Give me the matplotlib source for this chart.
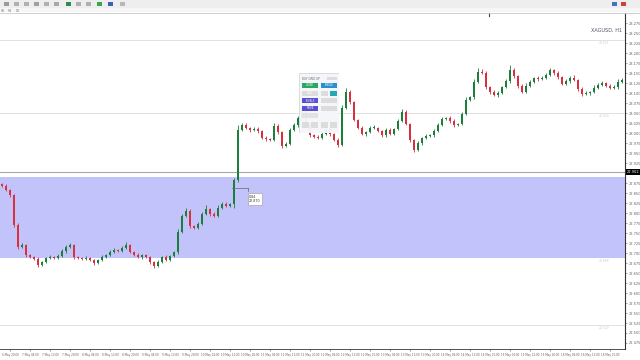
import numpy as np
import matplotlib.pyplot as plt
import matplotlib.transforms as mtransforms
from matplotlib.patches import Rectangle

# XAGUSD H1 closes (first open separately)
first_open = 22.873
closes = [
    22.868, 22.858, 22.845, 22.770, 22.715, 22.720, 22.695, 22.690, 22.685, 22.670,
    22.678, 22.688, 22.690, 22.688, 22.693, 22.705, 22.715, 22.720, 22.690, 22.688,
    22.685, 22.688, 22.683, 22.675, 22.683, 22.690, 22.695, 22.703, 22.708, 22.705,
    22.713, 22.720, 22.703, 22.695, 22.690, 22.695, 22.690, 22.678, 22.668, 22.678,
    22.690, 22.683, 22.693, 22.703, 22.753, 22.793, 22.805, 22.768, 22.763, 22.773,
    22.798, 22.810, 22.798, 22.793, 22.813, 22.823, 22.818, 22.823, 22.883, 23.008,
    23.020, 23.013, 23.008, 23.010, 23.005, 22.988, 22.985, 22.983, 23.018, 23.003,
    22.968, 22.973, 23.008, 23.020, 23.038, 23.063, 23.023, 22.995, 22.990, 22.988,
    22.998, 23.010, 22.998, 22.983, 22.970, 23.063, 23.103, 23.078, 23.033, 23.013,
    22.998, 23.003, 23.013, 23.013, 23.005, 22.995, 23.008, 22.998, 23.010, 23.030,
    23.053, 23.023, 22.983, 22.958, 22.975, 22.988, 22.993, 22.995, 23.005, 23.020,
    23.035, 23.038, 23.030, 23.020, 23.023, 23.048, 23.083, 23.090, 23.128, 23.153,
    23.150, 23.115, 23.103, 23.095, 23.100, 23.115, 23.130, 23.158, 23.143, 23.118,
    23.103, 23.118, 23.128, 23.138, 23.135, 23.138, 23.145, 23.158, 23.150, 23.140,
    23.123, 23.130, 23.138, 23.133, 23.110, 23.098, 23.100, 23.103, 23.113, 23.120,
    23.125, 23.118, 23.113, 23.115, 23.128, 23.133,
]
# wick lengths above / below body, in thousandths
wick_up = [
    3, 4, 2, 3, 5, 4, 2, 3, 2, 4,
    3, 2, 4, 3, 5, 4, 6, 5, 2, 3,
    2, 4, 3, 2, 3, 4, 3, 5, 4, 3,
    5, 7, 3, 2, 4, 3, 2, 3, 2, 4,
    3, 4, 2, 3, 6, 5, 8, 4, 3, 5,
    4, 9, 3, 4, 6, 5, 4, 3, 5, 12,
    6, 4, 3, 5, 4, 3, 4, 2, 6, 4,
    3, 5, 4, 6, 5, 8, 4, 3, 2, 5,
    4, 6, 3, 2, 4, 6, 10, 4, 3, 2,
    5, 3, 4, 6, 3, 2, 5, 4, 3, 5,
    6, 4, 3, 2, 5, 3, 4, 3, 5, 4,
    6, 3, 4, 5, 3, 4, 6, 3, 7, 9,
    6, 4, 3, 5, 4, 3, 5, 12, 4, 3,
    5, 6, 4, 3, 5, 4, 6, 5, 3, 4,
    3, 5, 4, 6, 3, 5, 4, 3, 6, 4,
    5, 3, 4, 6, 8, 4,
]
wick_dn = [
    3, 2, 4, 5, 6, 3, 4, 2, 3, 5,
    3, 4, 2, 3, 2, 3, 4, 3, 5, 2,
    3, 2, 4, 5, 3, 2, 3, 2, 4, 3,
    2, 3, 4, 3, 2, 4, 3, 5, 6, 3,
    2, 4, 3, 2, 5, 4, 3, 5, 4, 3,
    4, 3, 5, 4, 3, 2, 4, 3, 10, 6,
    3, 4, 5, 3, 4, 3, 5, 4, 3, 6,
    5, 4, 3, 2, 4, 3, 5, 4, 3, 2,
    4, 3, 5, 4, 6, 3, 4, 5, 3, 4,
    3, 5, 4, 3, 2, 4, 5, 3, 4, 3,
    2, 4, 6, 5, 3, 4, 3, 2, 4, 3,
    2, 3, 4, 5, 3, 2, 4, 3, 4, 2,
    3, 4, 5, 3, 4, 2, 3, 4, 5, 6,
    4, 3, 2, 3, 4, 2, 3, 2, 4, 5,
    3, 2, 4, 3, 5, 6, 3, 4, 2, 3,
    3, 4, 2, 3, 4, 3,
]
time_labels = [
    '6 May 20:00', '7 May 04:00', '7 May 12:00', '7 May 20:00', '8 May 04:00',
    '8 May 12:00', '8 May 20:00', '9 May 04:00', '9 May 12:00', '9 May 20:00',
    '10 May 04:00', '10 May 12:00', '10 May 20:00', '11 May 04:00', '11 May 12:00',
    '11 May 20:00', '12 May 04:00', '12 May 12:00', '12 May 20:00', '13 May 04:00',
    '13 May 12:00', '13 May 20:00', '14 May 04:00', '14 May 12:00', '14 May 20:00',
    '15 May 04:00', '15 May 12:00', '15 May 20:00', '16 May 04:00', '16 May 12:00',
    '16 May 20:00',
]
zone = (22.6875, 22.890)          # blue box
hlines_light = [23.2325, 23.050, 22.520]
marked_price = 22.9025

W, H = 640, 360
def fr(x0, y0, x1, y1):
    return [x0 / W, 1 - y1 / H, (x1 - x0) / W, (y1 - y0) / H]

fig = plt.figure(figsize=(6.4, 3.6), dpi=100)
fig.patch.set_facecolor('white')

# toolbar strip
fig.patches.append(Rectangle((0, 1 - 8 / H), 1, 8 / H, transform=fig.transFigure,
                             facecolor='#eeeeee', edgecolor='none'))
fig.patches.append(Rectangle((0, 1 - 12 / H), 1, 4 / H, transform=fig.transFigure,
                             facecolor='#f6f6f6', edgecolor='none'))
for x0, c in [(4, '#9a9a9a'), (14, '#b0b0b0'), (24, '#b0b0b0'), (34, '#a0a0a0'),
              (44, '#b0b0b0'), (54, '#a8a8a8'), (66, '#2e8b57'), (76, '#b0b0b0'),
              (86, '#b0b0b0'), (97, '#3aa64a'), (108, '#4060b0'), (120, '#b8b8b8')]:
    fig.patches.append(Rectangle((x0 / W, 1 - 6 / H), 5 / W, 4 / H, transform=fig.transFigure,
                                 facecolor=c, edgecolor='none'))
for x0, c in [(612, '#4a6fc0'), (621, '#d04040')]:
    fig.patches.append(Rectangle((x0 / W, 1 - 6 / H), 5 / W, 4 / H, transform=fig.transFigure,
                                 facecolor=c, edgecolor='none'))
for x0, t in [(1, 'H1'), (8, 'H4'), (16, 'D1')]:
    fig.text(x0 / W, 1 - 10.5 / H, t, fontsize=2.2, color='#777777', va='center')

ax = fig.add_axes(fr(0, 13, 625, 349))
n = len(closes)
x = np.arange(n)
opens = np.array([first_open] + closes[:-1])
closes_a = np.array(closes)
highs = np.maximum(opens, closes_a) + np.array(wick_up) / 1000
lows = np.minimum(opens, closes_a) - np.array(wick_dn) / 1000
up = closes_a >= opens
colors = np.where(up, '#1b7f3b', '#d9303f')

ax.axhspan(zone[0], zone[1], color='#c3c3fb', zorder=0, lw=0)
for p in hlines_light:
    ax.axhline(p, color='#dddddd', lw=0.6, zorder=1)
ax.axhline(marked_price, color='#a8a8a8', lw=0.8, zorder=1)

ax.vlines(x, lows, highs, colors=colors, lw=0.6, zorder=2)
body = np.maximum(np.abs(closes_a - opens), 0.0015)
ax.bar(x, body, bottom=np.minimum(opens, closes_a), width=0.6, color=colors,
       lw=0, zorder=3)

ax.set_xlim(-0.5, 155.75)
ax.set_ylim(22.46, 23.30)

for s in ['left', 'top']:
    ax.spines[s].set_visible(False)
ax.spines['right'].set_color('#333333')
ax.spines['right'].set_linewidth(0.8)
ax.spines['bottom'].set_color('#333333')
ax.spines['bottom'].set_linewidth(0.6)
fig.add_artist(plt.Line2D([0, 1], [1 - 12.5 / H] * 2, color='#c8c8c8', lw=0.6))

yt = np.arange(22.475, 23.30, 0.025)
yt = yt[np.abs(yt - marked_price) > 0.012]
ax.yaxis.tick_right()
ax.set_yticks(yt)
ax.set_yticklabels(['%.3f' % v for v in yt], fontsize=2.6, color='#666666')
ax.tick_params(axis='y', length=1.5, width=0.4, pad=1, colors='#666666')
xt = np.arange(2, 2 + 5 * len(time_labels), 5)[:len(time_labels)]
ax.set_xticks(xt)
ax.set_xticklabels(time_labels, fontsize=2.0, color='#666666')
ax.tick_params(axis='x', length=1.5, width=0.4, pad=1.5, colors='#666666')

tr = mtransforms.blended_transform_factory(ax.transAxes, ax.transData)
ax.text(1.003, marked_price, '%.3f' % marked_price, transform=tr, fontsize=2.6,
        color='white', va='center', ha='left',
        bbox=dict(boxstyle='square,pad=0.25', facecolor='black', edgecolor='none'))
for p in hlines_light:
    ax.text(0.975, p - 0.008, '%.3f' % p, transform=tr, fontsize=2.2, color='#cccccc',
            ha='right', va='center')
ax.text(0.975, zone[0] - 0.008, '%.3f' % zone[0], transform=tr, fontsize=2.2,
        color='#cccccc', ha='right', va='center')
ax.text(0.995, 0.955, 'XAGUSD, H1', transform=ax.transAxes, fontsize=3.6,
        color='#555566', ha='right', va='top')
ax.plot([121.8, 121.8], [23.30, 23.292], color='#444444', lw=0.8, clip_on=False)

# crosshair measure and tooltip
ax.plot([57.5, 61.5], [22.8625, 22.8625], color='#666666', lw=0.5, zorder=5)
ax.plot([61.5, 61.5], [22.8625, 22.855], color='#666666', lw=0.5, zorder=5)
ax.text(61.8, 22.835, '0.84\n22.870', fontsize=2.3, color='#333333', va='center',
        ha='left', zorder=6, linespacing=1.2,
        bbox=dict(boxstyle='square,pad=0.4', facecolor='white', edgecolor='#999999',
                  lw=0.4))

# trade panel
pa = fig.add_axes(fr(299, 73, 339, 133))
pa.set_xlim(299, 339)
pa.set_ylim(133, 73)
pa.axis('off')
pa.add_patch(Rectangle((299, 73), 40, 60, facecolor='#f4f6fa', edgecolor='#c8ccd4',
                       lw=0.5, alpha=0.95))
pa.text(302, 78.5, 'BUY GRID UP', fontsize=2.0, color='#666666', va='center')
buttons = [
    (327, 76.5, 10, 3.5, '#dcdcdc', ''),
    (302, 83, 16, 5, '#2aa860', 'CLOSE'),
    (321, 83, 16, 5, '#2a8fcf', 'SINGLE'),
    (302, 90.5, 16, 5, '#dcdcdc', 'GRID'),
    (321, 90.5, 7, 5, '#dcdcdc', ''),
    (330, 90.5, 7, 5, '#22a8b8', ''),
    (302, 98, 16, 5, '#5a4fcf', 'LEVELS'),
    (321, 98, 16, 5, '#dcdcdc', ''),
    (302, 105.5, 16, 5, '#5a4fcf', 'MOVE'),
    (321, 105.5, 16, 5, '#dcdcdc', ''),
    (302, 113, 16, 5, '#e2e2e2', ''),
    (302, 121.5, 7, 6, '#dcdcdc', ''),
    (311, 121.5, 7, 6, '#dcdcdc', ''),
    (321, 121.5, 7, 6, '#dcdcdc', ''),
    (330, 121.5, 7, 6, '#dcdcdc', ''),
]
for bx, by, bw, bh, c, t in buttons:
    pa.add_patch(Rectangle((bx, by), bw, bh, facecolor=c, edgecolor='none'))
    if t:
        pa.text(bx + bw / 2, by + bh / 2, t, fontsize=1.8, color='white',
                ha='center', va='center')

fig.savefig('out.png', dpi=100)
